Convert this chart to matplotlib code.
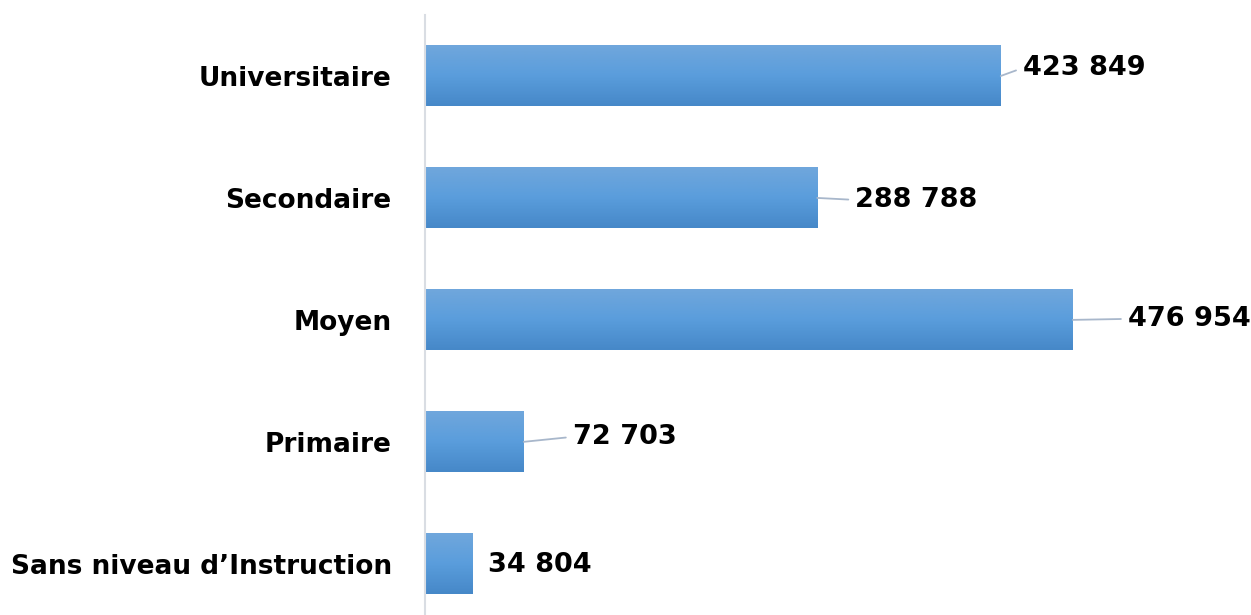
import numpy as np
import matplotlib.pyplot as plt
from matplotlib.colors import LinearSegmentedColormap

categories = ["Sans niveau d\u2019Instruction", "Primaire", "Moyen", "Secondaire", "Universitaire"]
values = [34804, 72703, 476954, 288788, 423849]
value_labels = ["34 804", "72 703", "476 954", "288 788", "423 849"]

# label offsets (pixels) from the bar end, hand-placed like the original
label_dx = [16, 49, 55, 38, 22]
label_dy = [-1, 5, 1, -2, 8]
leader = [False, True, True, True, True]

fig = plt.figure(figsize=(12.51, 6.15), dpi=100)
ax = fig.add_axes([425 / 1251, 0.0, (1240 - 425) / 1251, 600 / 615])

cmap = LinearSegmentedColormap.from_list("bar", ["#4688C8", "#5A9DDC", "#70A7DC"])
grad = np.linspace(0, 1, 100).reshape(-1, 1)

ypos = np.arange(len(categories))
bars = ax.barh(ypos, values, height=0.5, color="none", edgecolor="none")
for b in bars:
    x0, y0 = b.get_x(), b.get_y()
    im = ax.imshow(grad, cmap=cmap, aspect="auto", origin="lower",
                   extent=(x0, x0 + b.get_width(), y0, y0 + b.get_height()), zorder=2)
    im.set_clip_path(b)

for i, (v, lab) in enumerate(zip(values, value_labels)):
    props = None
    if leader[i]:
        props = dict(arrowstyle="-", color="#A8B7CB", lw=1.3, shrinkA=3, shrinkB=0,
                     relpos=(0, 0.5))
    ax.annotate(lab, xy=(v, i), xytext=(label_dx[i], label_dy[i]),
                textcoords="offset pixels", ha="left", va="center",
                fontsize=19.5, fontweight="bold", family="DejaVu Sans", color="black",
                arrowprops=props, zorder=3)

ax.set_xlim(0, 600000)
ax.set_ylim(-0.42, 4.5)
ax.set_yticks(ypos)
ax.set_yticklabels(categories, fontsize=19, fontweight="bold", family="DejaVu Sans")
ax.tick_params(axis="y", length=0, pad=24)
ax.set_xticks([])
for s in ["top", "right", "bottom"]:
    ax.spines[s].set_visible(False)
ax.spines["left"].set_color("#D9DDE3")
ax.spines["left"].set_linewidth(1.5)

fig.savefig("out.png", dpi=100)
